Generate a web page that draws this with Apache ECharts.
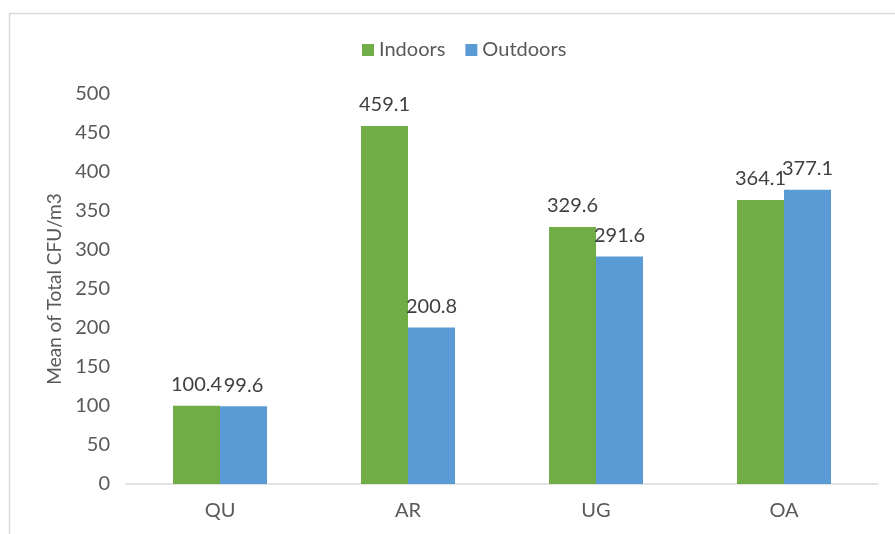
<!DOCTYPE html>
<html>
<head>
<meta charset="utf-8">
<script src="https://cdn.jsdelivr.net/npm/echarts@6/dist/echarts.min.js"></script>
<style>
  html, body { margin: 0; padding: 0; background: #fff; }
  #chart { width: 895px; height: 534px; }
</style>
</head>
<body>
<div id="chart"></div>
<script>
// Mean total CFU/m3 per site, indoors vs outdoors
const categories = ['QU', 'AR', 'UG', 'OA'];
const indoors = [100.4, 459.1, 329.6, 364.1];
const outdoors = [99.6, 200.8, 291.6, 377.1];
const yTicks = { min: 0, max: 500, interval: 50 };

const font = 'Lato, "Open Sans", sans-serif';
const chart = echarts.init(document.getElementById('chart'), null, { renderer: 'canvas' });

const labelStyle = {
  show: true,
  position: 'top',
  distance: 11,
  color: '#404040',
  fontFamily: font,
  fontSize: 20,
  formatter: p => p.value.toFixed(1)
};

chart.setOption({
  animation: false,
  backgroundColor: '#fff',
  graphic: [{
    type: 'rect',
    shape: { x: 9.5, y: 13.5, width: 900, height: 540 },
    style: { fill: 'none', stroke: '#d9d9d9', lineWidth: 1.5 },
    silent: true
  }],
  legend: {
    top: 35,
    left: 357,
    itemWidth: 12,
    itemHeight: 12,
    itemGap: 20,
    icon: 'rect',
    textStyle: { color: '#595959', fontFamily: font, fontSize: 20 },
    data: ['Indoors', 'Outdoors']
  },
  grid: { left: 126, right: 17, top: 94, bottom: 50 },
  xAxis: {
    type: 'category',
    data: categories,
    axisTick: { show: false },
    axisLine: { lineStyle: { color: '#d9d9d9', width: 1.5 } },
    axisLabel: { color: '#595959', fontFamily: font, fontSize: 20, margin: 17 }
  },
  yAxis: {
    type: 'value',
    min: yTicks.min,
    max: yTicks.max,
    interval: yTicks.interval,
    name: 'Mean of Total CFU/m3',
    nameLocation: 'middle',
    nameGap: 60,
    nameTextStyle: { color: '#595959', fontFamily: font, fontSize: 19 },
    axisLine: { show: false },
    axisTick: { show: false },
    splitLine: { show: false },
    axisLabel: { color: '#595959', fontFamily: font, fontSize: 20, margin: 16 }
  },
  series: [
    {
      name: 'Indoors',
      type: 'bar',
      data: indoors,
      barGap: '0%',
      barCategoryGap: '50%',
      itemStyle: { color: '#70AD47' },
      label: labelStyle
    },
    {
      name: 'Outdoors',
      type: 'bar',
      data: outdoors,
      itemStyle: { color: '#5B9BD5' },
      label: labelStyle
    }
  ]
});
</script>
</body>
</html>
